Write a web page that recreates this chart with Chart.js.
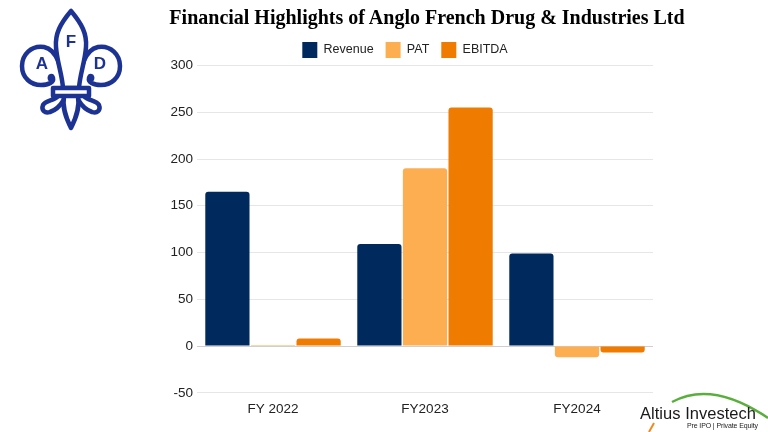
<!DOCTYPE html>
<html>
<head>
<meta charset="utf-8">
<script src="https://cdn.jsdelivr.net/npm/chart.js@4.4.1/dist/chart.umd.min.js"></script>
<style>
  html, body { margin: 0; padding: 0; background: #fff; }
  #wrap { position: relative; width: 768px; height: 432px; overflow: hidden; }
  #chart { position: absolute; left: 0; top: 0; }
  #title {
    position: absolute; left: 127px; width: 600px; top: 4px;
    text-align: center; font: bold 20px "Liberation Serif", "Times New Roman", serif;
    color: #000; line-height: 26px; white-space: nowrap;
  }
  svg { position: absolute; left: 0; top: 0; }
</style>
</head>
<body>
<div id="wrap">
  <canvas id="chart" width="768" height="432"></canvas>
  <div id="title">Financial Highlights of Anglo French Drug &amp; Industries Ltd</div>
  <svg width="768" height="432" viewBox="0 0 768 432">
    <g fill="#fff" stroke="#1d3393" stroke-width="4.5" stroke-linejoin="round" stroke-linecap="round">
      <path d="M64,87 C61,68 58,50 44,47 C31,45 22,55 22,66 C22,78 31,85 41,85 C49,85 54,82 53,78 C52,75 49,76 50,79"/>
      <path d="M78,87 C81,68 84,50 98,47 C111,45 120,55 120,66 C120,78 111,85 101,85 C93,85 88,82 89,78 C90,75 93,76 92,79"/>
      <path d="M71,11 C60,24 55,34 56,47 C57,62 62,74 63,88 L79,88 C80,74 85,62 86,47 C87,34 82,24 71,11 Z"/>
      <path d="M58,96 C54,101 46,100 43,105 C41,110 45,114 50,112 C56,110 60,106 63,101"/>
      <path d="M84,96 C88,101 96,100 99,105 C101,110 97,114 92,112 C86,110 82,106 79,101"/>
      <path d="M64,96 C62,108 66,118 71,128 C76,118 80,108 78,96"/>
      <rect x="53" y="88" width="36" height="8"/>
    </g>
    <g fill="#1d3393" font-family="Liberation Sans, Arial, sans-serif" font-weight="bold" font-size="17" text-anchor="middle">
      <text x="71" y="47">F</text>
      <text x="42" y="69">A</text>
      <text x="100" y="69">D</text>
    </g>
    <path d="M672,402 Q712,380 768,418" fill="none" stroke="#5aaf3c" stroke-width="2.5"/>
    <path d="M654,423 L649,432" fill="none" stroke="#f08a1c" stroke-width="2"/>
    <text x="640" y="419" font-family="Liberation Sans, Arial, sans-serif" font-size="16.5" fill="#1a1a1a" textLength="116">Altius Investech</text>
    <text x="687" y="428" font-family="Liberation Sans, Arial, sans-serif" font-size="7" fill="#222" textLength="71">Pre IPO | Private Equity</text>
  </svg>
</div>
<script>
const years = ['FY 2022', 'FY2023', 'FY2024'];
const revenue = [165, 109, 99];
const pat = [1, 190, -12];
const ebitda = [8, 255, -7];
const yTicks = [-50, 0, 50, 100, 150, 200, 250, 300];

const ctx = document.getElementById('chart').getContext('2d');
new Chart(ctx, {
    type: 'bar',
    data: {
        labels: years,
        datasets: [
            { label: 'Revenue', data: revenue, backgroundColor: '#00295e' },
            { label: 'PAT', data: pat, backgroundColor: '#fdae50' },
            { label: 'EBITDA', data: ebitda, backgroundColor: '#ef7b00' }
        ]
    },
    options: {
        responsive: false,
        animation: false,
        devicePixelRatio: 1,
        categoryPercentage: 0.9,
        barPercentage: 0.97,
        borderRadius: 3,
        layout: { padding: { left: 157, right: 115, top: 30, bottom: 15 } },
        plugins: {
            title: { display: false },
            tooltip: { enabled: false },
            legend: {
                position: 'top',
                maxHeight: 35.5,
                labels: {
                    boxWidth: 15,
                    boxHeight: 16,
                    padding: 12,
                    color: '#222',
                    font: { family: 'Liberation Sans, Arial, sans-serif', size: 12.5 }
                }
            }
        },
        scales: {
            x: {
                grid: { display: false },
                border: { display: false },
                ticks: {
                    color: '#222',
                    padding: 0,
                    font: { family: 'Liberation Sans, Arial, sans-serif', size: 13.5 }
                }
            },
            y: {
                min: yTicks[0],
                max: yTicks[yTicks.length - 1],
                afterFit: (scale) => { scale.width = 40; },
                afterBuildTicks: (scale) => { scale.ticks = yTicks.map(v => ({ value: v })); },
                grid: {
                    drawTicks: false,
                    color: (c) => c.tick && c.tick.value === 0 ? '#cfcfcf' : '#e6e6e6'
                },
                border: { display: false },
                ticks: {
                    color: '#222',
                    padding: 4,
                    font: { family: 'Liberation Sans, Arial, sans-serif', size: 13.5 }
                }
            }
        }
    }
});
</script>
</body>
</html>
